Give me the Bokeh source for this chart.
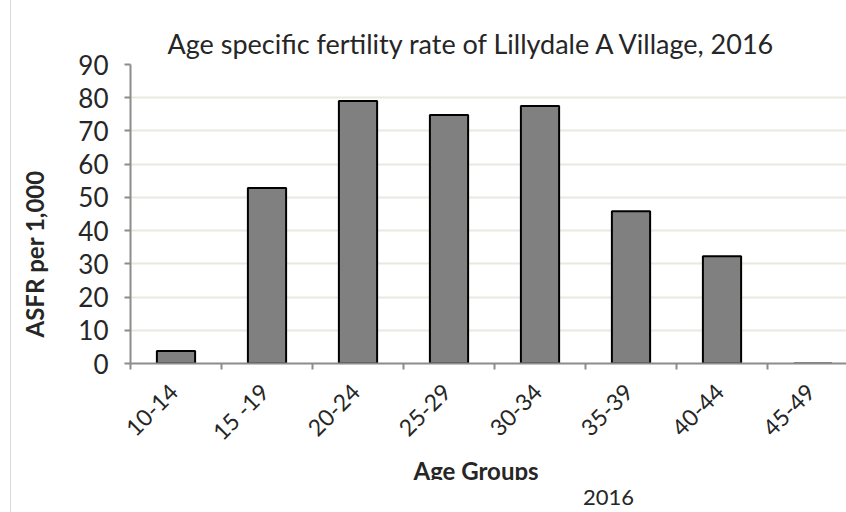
import math
from bokeh.plotting import figure
from bokeh.layouts import column
from bokeh.models import FixedTicker, Range1d, Title, Legend, LegendItem, ColumnDataSource
from bokeh.embed import file_html
from bokeh.resources import INLINE

age_groups = ["10-14", "15 -19", "20-24", "25-29", "30-34", "35-39", "40-44", "45-49"]
asfr_2016 = [3.8, 52.8, 79.0, 74.8, 77.5, 45.8, 32.3, 0.0]
y_ticks = [0, 10, 20, 30, 40, 50, 60, 70, 80, 90]
series_name = "2016"
title_text = "Age specific fertility rate of Lillydale A Village, 2016"
x_title = "Age Groups"
y_title = "ASFR per 1,000"

FONT = "Lato"
TXT = "#262626"
BAR_FILL = "#808080"
BORDER_BG = "linear-gradient(to right, transparent 10px, #d9d9d9 10px, #d9d9d9 11px, white 11px)"

xs = [i + 0.5 for i in range(len(age_groups))]
label_pos = [x - 0.03 for x in xs]
src = ColumnDataSource(dict(x=xs, top=asfr_2016))

p = figure(frame_width=716, frame_height=299, output_backend="svg", toolbar_location=None,
           x_range=Range1d(0, 7.868), y_range=Range1d(0, 90),
           min_border_left=130, min_border_top=64, min_border_bottom=117, min_border_right=0)
p.title = None
p.outline_line_color = None
p.background_fill_color = "white"
p.border_fill_alpha = 0

r = p.vbar(x="x", top="top", width=0.42, source=src, fill_color=BAR_FILL,
           line_color="black", line_width=2)

# y axis
p.yaxis.ticker = FixedTicker(ticks=y_ticks)
p.yaxis.axis_line_color = "#8c8c8c"
p.yaxis.axis_line_width = 2
p.yaxis.major_tick_line_color = "#8c8c8c"
p.yaxis.major_tick_line_width = 2
p.yaxis.major_tick_out = 6
p.yaxis.major_tick_in = 0
p.yaxis.minor_tick_line_color = None
p.yaxis.major_label_text_font = FONT
p.yaxis.major_label_text_font_size = "26px"
p.yaxis.major_label_text_color = TXT
p.yaxis.major_label_standoff = 16

# x axis
p.xaxis.ticker = FixedTicker(ticks=label_pos, minor_ticks=list(range(len(age_groups) + 1)))
p.xaxis.major_label_overrides = {x: lab for x, lab in zip(label_pos, age_groups)}
p.xaxis.major_tick_line_color = None
p.xaxis.minor_tick_line_color = "#8c8c8c"
p.xaxis.minor_tick_line_width = 2
p.xaxis.minor_tick_out = 6
p.xaxis.minor_tick_in = 0
p.xaxis.axis_line_color = "#8c8c8c"
p.xaxis.axis_line_width = 2
p.xaxis.major_label_orientation = math.pi / 4
p.xaxis.major_label_text_font = FONT
p.xaxis.major_label_text_font_size = "23px"
p.xaxis.major_label_text_color = TXT
p.xaxis.major_label_standoff = 18

p.xgrid.grid_line_color = None
p.ygrid.ticker = FixedTicker(ticks=y_ticks)
p.ygrid.grid_line_color = "#ebe8df"
p.ygrid.grid_line_width = 2

# titles
t = Title(text=title_text, align="left", offset=37, text_font=FONT,
          text_font_size="27px", text_font_style="normal", text_color=TXT)
p.add_layout(t, "above")

xt = Title(text=x_title, align="left", offset=283, text_font=FONT,
           text_font_size="24px", text_font_style="bold", text_color=TXT)
try:
    xt.standoff = -10
except Exception:
    pass
p.add_layout(xt, "below")

spacer = Title(text=" ", text_font_size="9px")
p.add_layout(spacer, "left")
yt = Title(text=y_title, align="left", offset=26, text_font=FONT,
           text_font_size="24px", text_font_style="bold", text_color=TXT)
p.add_layout(yt, "left")

p.styles = {"background": BORDER_BG}

# legend strip below the chart
p2 = figure(width=846, height=34, output_backend="svg", toolbar_location=None,
            x_axis_type=None, y_axis_type=None,
            x_range=Range1d(0, 1), y_range=Range1d(0, 1),
            min_border_left=0, min_border_right=0, min_border_top=0, min_border_bottom=0)
p2.outline_line_color = None
p2.background_fill_alpha = 0
p2.border_fill_alpha = 0
p2.xgrid.grid_line_color = None
p2.ygrid.grid_line_color = None
swatch = p2.vbar(x=[], top=[], width=0.5, fill_color=BAR_FILL, line_color="black", line_width=2)

legend = Legend(items=[LegendItem(label=series_name, renderers=[swatch])],
                orientation="horizontal", location=(433, 4),
                label_text_font=FONT, label_text_font_size="22px", label_text_color=TXT,
                glyph_width=15, glyph_height=15, label_standoff=5,
                border_line_color=None, background_fill_alpha=0,
                padding=0, margin=0)
p2.add_layout(legend, "center")
p2.styles = {"background": BORDER_BG}

layout = column(p, p2, spacing=0)
open("out.html", "w").write(file_html(layout, INLINE))
